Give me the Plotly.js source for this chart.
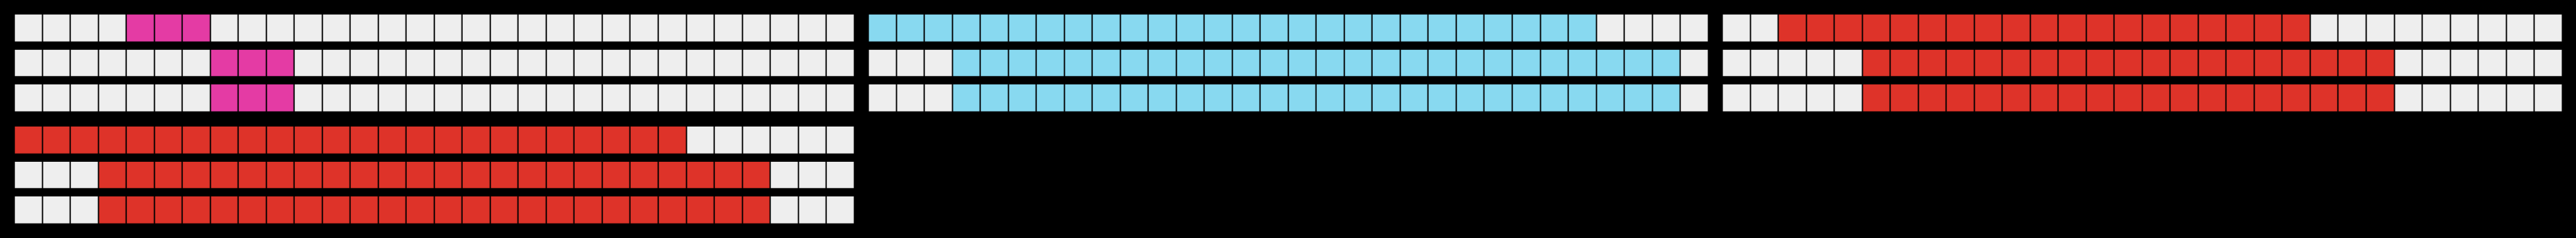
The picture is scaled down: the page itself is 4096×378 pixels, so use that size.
<!DOCTYPE html>
<html>
<head>
<meta charset="utf-8">
<script src="https://cdn.plot.ly/plotly-3.0.1.min.js"></script>
<style>
  html, body { margin: 0; padding: 0; background: #000; }
  #chart { width: 4096px; height: 378px; }
</style>
</head>
<body>
<div id="chart"></div>
<script>
// ---- data (cell positions are 1-based, inclusive) ----
const cellCount = 30;
const rowLabels = ["row 1", "row 2", "row 3"];
const panelColors = ["#E43BA4", "#88D9F0", "#DE3329", "#DE3329"];
const panel1Start = [5, 8, 8];
const panel1End   = [7, 10, 10];
const panel2Start = [1, 4, 4];
const panel2End   = [26, 29, 29];
const panel3Start = [3, 6, 6];
const panel3End   = [21, 24, 24];
const panel4Start = [1, 4, 4];
const panel4End   = [24, 27, 27];
const emptyColor = "#EEEEEE";

// ---- layout geometry (reference 5888 x 544 px, scaled to window) ----
const W = 4096, H = 378;
const refW = 5888, refH = 544;
const sx = W / refW, sy = H / refH;
const colLeft = [32.5, 1984.5, 3936.5], colWidth = 1920;
const rowTop = [24.5, 280.5], rowHeight = 240;

const panels = [
  {start: panel1Start, end: panel1End, color: panelColors[0], col: 0, row: 0},
  {start: panel2Start, end: panel2End, color: panelColors[1], col: 1, row: 0},
  {start: panel3Start, end: panel3End, color: panelColors[2], col: 2, row: 0},
  {start: panel4Start, end: panel4End, color: panelColors[3], col: 0, row: 1}
];

const cells = Array.from({length: cellCount}, (_, i) => i + 1);
const traces = [];
const layout = {
  width: W, height: H,
  margin: {l: 0, r: 0, t: 0, b: 0, pad: 0},
  paper_bgcolor: "#000000",
  plot_bgcolor: "#000000",
  showlegend: false,
  hovermode: false
};

panels.forEach((p, i) => {
  const z = p.start.map((s, r) => cells.map(c => (c >= s && c <= p.end[r]) ? 1 : 0));
  const ax = i === 0 ? "" : String(i + 1);
  traces.push({
    type: "heatmap",
    x: cells,
    y: rowLabels,
    z: z,
    zmin: 0, zmax: 1,
    colorscale: [[0, emptyColor], [1, p.color]],
    showscale: false,
    xgap: 3 * sx,
    ygap: 19 * sy,
    xaxis: "x" + ax,
    yaxis: "y" + ax,
    hoverinfo: "skip"
  });
  const x0 = colLeft[p.col] / refW, x1 = (colLeft[p.col] + colWidth) / refW;
  const y1 = 1 - rowTop[p.row] / refH, y0 = 1 - (rowTop[p.row] + rowHeight) / refH;
  layout["xaxis" + ax] = {
    domain: [x0, x1], range: [0.5, cellCount + 0.5], visible: false,
    fixedrange: true, anchor: "y" + ax
  };
  layout["yaxis" + ax] = {
    domain: [y0, y1], autorange: "reversed", type: "category", visible: false,
    fixedrange: true, anchor: "x" + ax
  };
});

Plotly.newPlot("chart", traces, layout, {staticPlot: true, displayModeBar: false});
</script>
</body>
</html>
